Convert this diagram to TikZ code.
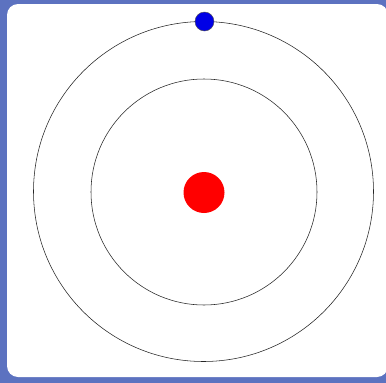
\documentclass[tikz,border=0pt]{standalone}
\definecolor{bgblue}{RGB}{92,114,192}
\definecolor{dotred}{RGB}{255,0,0}
\definecolor{dotblue}{RGB}{0,0,230}
\tikzset{orbit/.style={draw=black!85,line width=0.55pt},
nucleus/.style={circle,fill=dotred,inner sep=0pt,minimum size=41pt},
electron/.style={circle,fill=dotblue,draw=black!70,line width=0.4pt,inner sep=0pt,minimum size=19pt}}
\begin{document}
\begin{tikzpicture}[x=1pt,y=-1pt]
\useasboundingbox (0,0) rectangle (386,383);
\fill[bgblue] (0,0) rectangle (386,383);
\fill[white,rounded corners=11pt] (7,4) rectangle (388,377);
\draw[orbit] (203.5,191.5) circle (170);
\draw[orbit] (204,192) circle (113);
\node[nucleus] (n) at (204,192.5) {};
\node[electron] (e) at (204.5,21.5) {};
\end{tikzpicture}
\end{document}
